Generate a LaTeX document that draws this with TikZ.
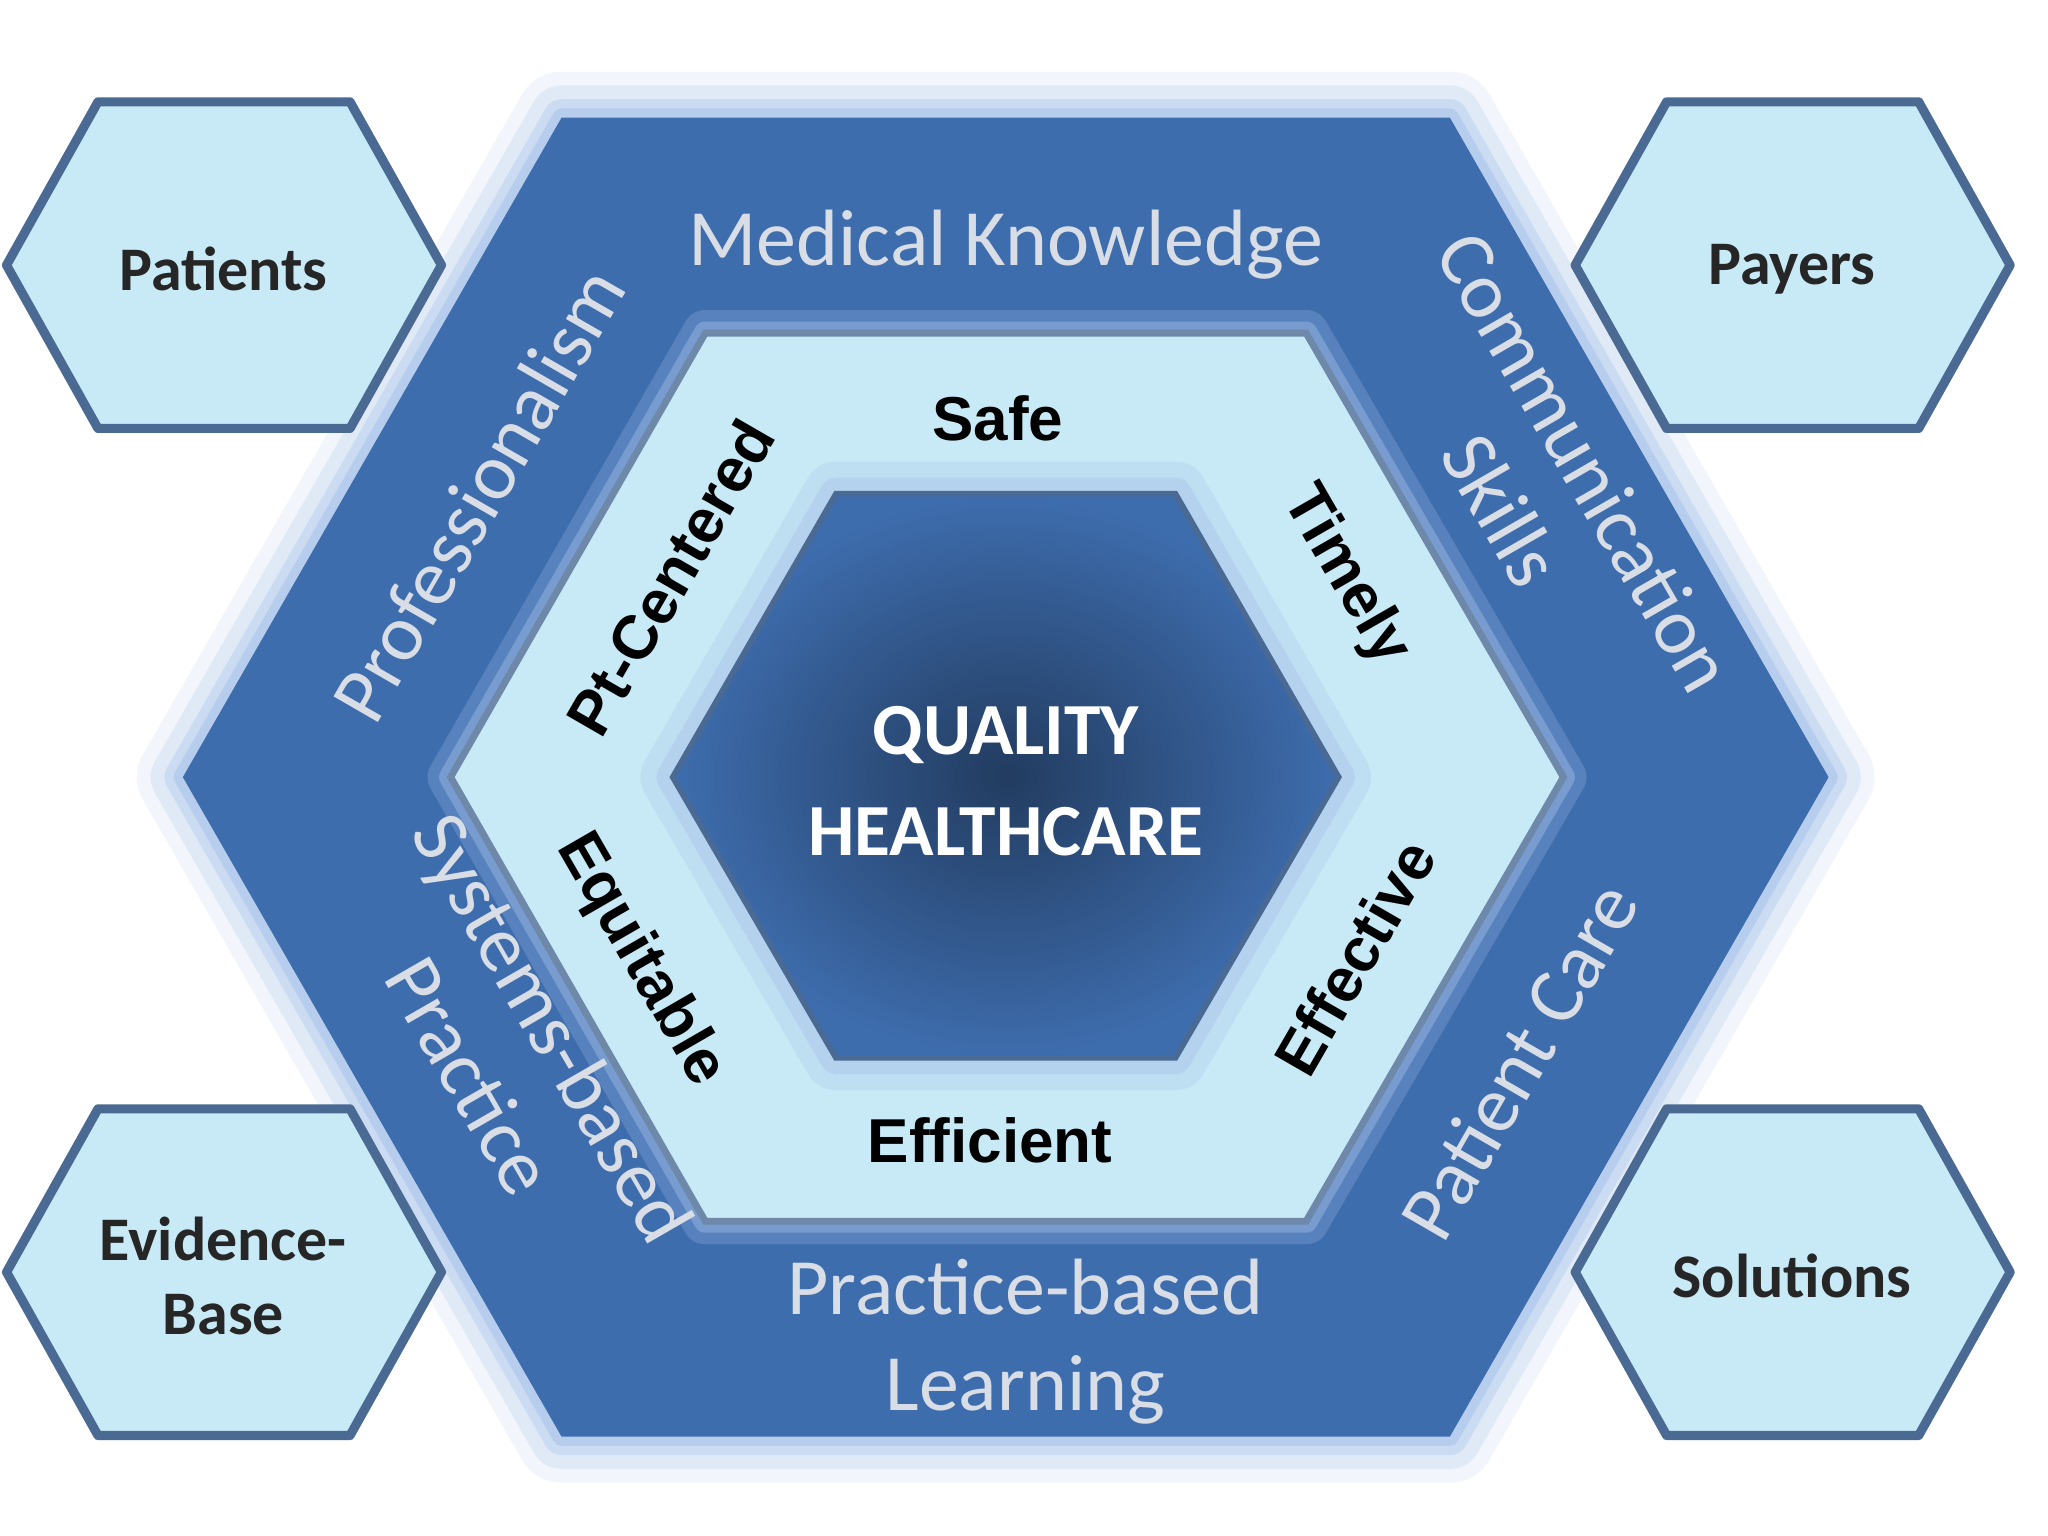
\documentclass[tikz,border=0pt]{standalone}
\usepackage{fontspec}
\setmainfont{Carlito}
\newfontfamily\arialb{Liberation Sans}
\definecolor{outerblue}{HTML}{3E6DAE}
\definecolor{lightfill}{HTML}{C8EAF6}
\definecolor{edgeblue}{HTML}{4A6A94}
\definecolor{glow}{HTML}{A9C4EA}
\definecolor{graytxt}{HTML}{D8DDE6}
\tikzset{
  smallhex/.style={fill=lightfill,draw=edgeblue,line width=2pt,line join=round},
  smalltxt/.style={font=\fontsize{13.5}{16}\selectfont\bfseries,text=black!85,align=center},
  graylab/.style={font=\fontsize{17.4}{21}\selectfont,text=graytxt,align=center},
  blacklab/.style={font=\arialb\fontsize{13.5}{16}\selectfont\bfseries,text=black},
}
\begin{document}
\begin{tikzpicture}[x=0.01cm,y=-0.01cm]
\useasboundingbox (0,0) rectangle (1568,1176);
% glow
\foreach \w/\o in {20/0.15,14/0.25,8/0.4,4/0.6}{
  \draw[glow,line width=\w pt,opacity=\o,line join=round] (430,90)--(1110,90)--(1400,595)--(1110,1100)--(430,1100)--(140,595)--cycle;}
\path[fill=outerblue] (430,90)--(1110,90)--(1400,595)--(1110,1100)--(430,1100)--(140,595)--cycle;
% middle glow
\foreach \w/\o in {10/0.25,5/0.4}{
  \draw[glow,line width=\w pt,opacity=\o,line join=round] (540,255)--(1000,255)--(1197,595)--(1000,935)--(540,935)--(345,595)--cycle;}
\path[fill=lightfill,draw=edgeblue!80,line width=1.5pt] (540,255)--(1000,255)--(1197,595)--(1000,935)--(540,935)--(345,595)--cycle;
% inner
\foreach \w/\o in {14/0.3,7/0.45}{
  \draw[glow,line width=\w pt,opacity=\o,line join=round] (640,378)--(900,378)--(1025,595)--(900,810)--(640,810)--(515,595)--cycle;}
\path[inner color=outerblue!55!black,outer color=outerblue,draw=edgeblue,line width=1.2pt] (640,378)--(900,378)--(1025,595)--(900,810)--(640,810)--(515,595)--cycle;
% small hexagons
\foreach \cx/\cy in {171/203,1372/203,171/974,1372/974}{
  \path[smallhex] (\cx-96,\cy-125)--(\cx+97,\cy-125)--(\cx+167,\cy)--(\cx+97,\cy+125)--(\cx-96,\cy+125)--(\cx-166,\cy)--cycle;}
\node[smalltxt] (pat) at (171,206) {Patients};
\node[smalltxt] (pay) at (1372,206) {Payers};
\node[smalltxt] (evi) at (171,977) {Evidence-\\Base};
\node[smalltxt] (sol) at (1372,977) {Solutions};
% outer labels
\node[graylab] (mk) at (770,187) {Medical Knowledge};
\node[graylab,rotate=60] (prof) at (366,378) {Professionalism};
\node[graylab,rotate=-60] (comm) at (1182,372) {Communication\\Skills};
\node[graylab,rotate=60] (pc) at (1163,812) {Patient Care};
\node[graylab,rotate=-60] (sbp) at (392,805) {Systems-based\\Practice};
\node[graylab] (pbl) at (785,1027) {Practice-based\\Learning};
% inner labels
\node[blacklab] (safe) at (764,320) {Safe};
\node[blacklab,rotate=-60] (tim) at (1030,441) {Timely};
\node[blacklab,rotate=60] (eff) at (1037,733) {Effective};
\node[blacklab] (effi) at (758,873) {Efficient};
\node[blacklab,rotate=-60] (equ) at (490,735) {Equitable};
\node[blacklab,rotate=60] (ptc) at (513,442) {Pt-Centered};
\node[font=\fontsize{16}{22}\selectfont\bfseries,text=white,align=center] (q) at (770,598) {QUALITY\\HEALTHCARE};
\end{tikzpicture}
\end{document}
